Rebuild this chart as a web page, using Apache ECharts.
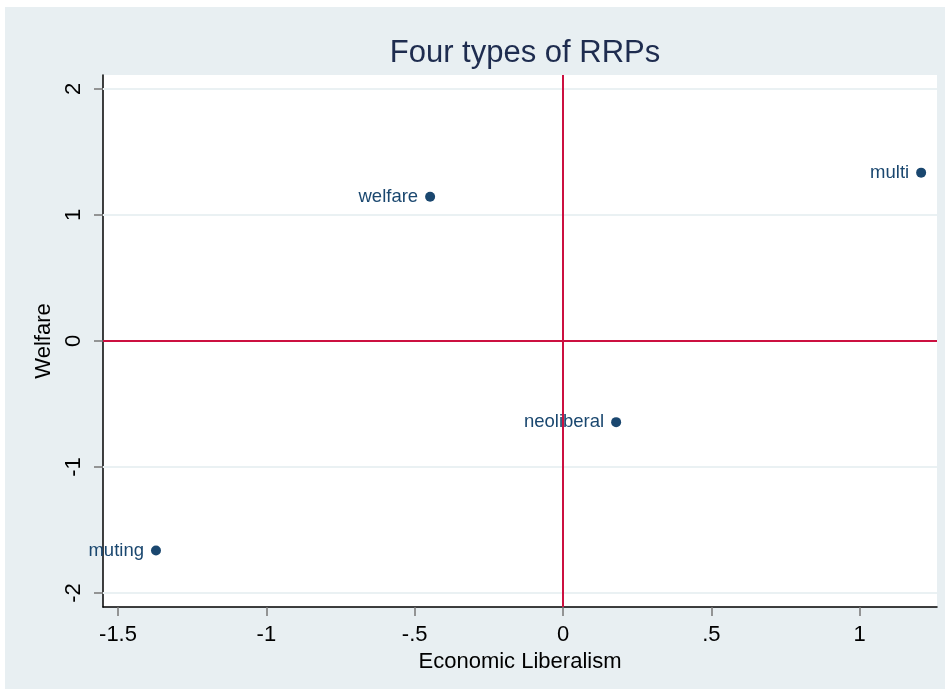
<!DOCTYPE html>
<html>
<head>
<meta charset="utf-8">
<script src="https://cdn.jsdelivr.net/npm/echarts@6/dist/echarts.min.js"></script>
<style>
html,body{margin:0;padding:0;background:#ffffff;}
#chart{width:950px;height:695px;}
</style>
</head>
<body>
<div id="chart"></div>
<script>
// Data
const partyTypes = ['welfare', 'multi', 'neoliberal', 'muting'];
const economicLiberalism = [-0.448, 1.207, 0.179, -1.372];
const welfareScores = [1.145, 1.336, -0.644, -1.662];
const xTicks = [-1.5, -1, -0.5, 0, 0.5, 1];
const xTickLabels = ['-1.5', '-1', '-.5', '0', '.5', '1'];
const yTicks = [-2, -1, 0, 1, 2];
const yTickLabels = ['-2', '-1', '0', '1', '2'];

const chart = echarts.init(document.getElementById('chart'));
const font = 'Liberation Sans, Arial, sans-serif';

const points = partyTypes.map((n, i) => ({ name: n, value: [economicLiberalism[i], welfareScores[i]] }));

chart.setOption({
  animation: false,
  backgroundColor: '#ffffff',
  graphic: [{
    type: 'rect', z: -100, silent: true,
    shape: { x: 5, y: 7, width: 940, height: 682 },
    style: { fill: '#e8eff2' }
  }],
  title: {
    text: 'Four types of RRPs',
    left: 520, top: 33, textAlign: 'center',
    textStyle: { fontFamily: font, fontSize: 31, fontWeight: 'normal', color: '#1e2c4f' }
  },
  grid: {
    left: 103, top: 75, width: 834, height: 532,
    show: true, backgroundColor: '#ffffff', borderWidth: 0
  },
  xAxis: {
    type: 'value', min: -1.5506, max: 1.2605,
    name: 'Economic Liberalism', nameLocation: 'middle', nameGap: 39,
    nameTextStyle: { fontFamily: font, fontSize: 22, color: '#000000' },
    axisLine: { show: true, onZero: false, lineStyle: { color: '#000000', width: 1.5 } },
    axisTick: { show: true, customValues: xTicks, length: 9, lineStyle: { color: '#777777', width: 1.5 } },
    axisLabel: {
      customValues: xTicks, margin: 17, fontFamily: font, fontSize: 22, color: '#000000',
      formatter: v => xTickLabels[xTicks.findIndex(t => Math.abs(t - v) < 1e-9)]
    },
    splitLine: { show: false }
  },
  yAxis: {
    type: 'value', min: -2.111, max: 2.111,
    name: 'Welfare', nameLocation: 'middle', nameGap: 42, nameRotate: 90,
    nameTextStyle: { fontFamily: font, fontSize: 22, color: '#000000' },
    axisLine: { show: true, onZero: false, lineStyle: { color: '#000000', width: 1.5 } },
    axisTick: { show: true, customValues: yTicks, length: 9, lineStyle: { color: '#777777', width: 1.5 } },
    axisLabel: {
      customValues: yTicks, rotate: 90, margin: 18, fontFamily: font, fontSize: 22, color: '#000000',
      formatter: v => yTickLabels[yTicks.findIndex(t => Math.abs(t - v) < 1e-9)]
    },
    splitLine: { show: false }
  },
  series: [
    {
      type: 'scatter', data: [], z: 1, silent: true,
      markLine: {
        silent: true, symbol: 'none', label: { show: false },
        lineStyle: { color: '#eaf1f3', width: 2, type: 'solid', opacity: 1 },
        data: yTicks.map(t => ({ yAxis: t }))
      }
    },
    {
      type: 'scatter', data: [], z: 2, silent: true,
      markLine: {
        silent: true, symbol: 'none', label: { show: false },
        lineStyle: { color: '#cc1040', width: 2, type: 'solid', opacity: 1 },
        data: [{ xAxis: 0 }, { yAxis: 0 }]
      }
    },
    {
      type: 'scatter', z: 5,
      symbol: 'circle', symbolSize: 10,
      itemStyle: { color: '#1a476f', opacity: 1 },
      label: {
        show: true, position: 'left', distance: 7,
        formatter: p => p.name,
        fontFamily: font, fontSize: 18.5, color: '#1a476f', opacity: 1
      },
      data: points
    }
  ]
});
</script>
</body>
</html>
